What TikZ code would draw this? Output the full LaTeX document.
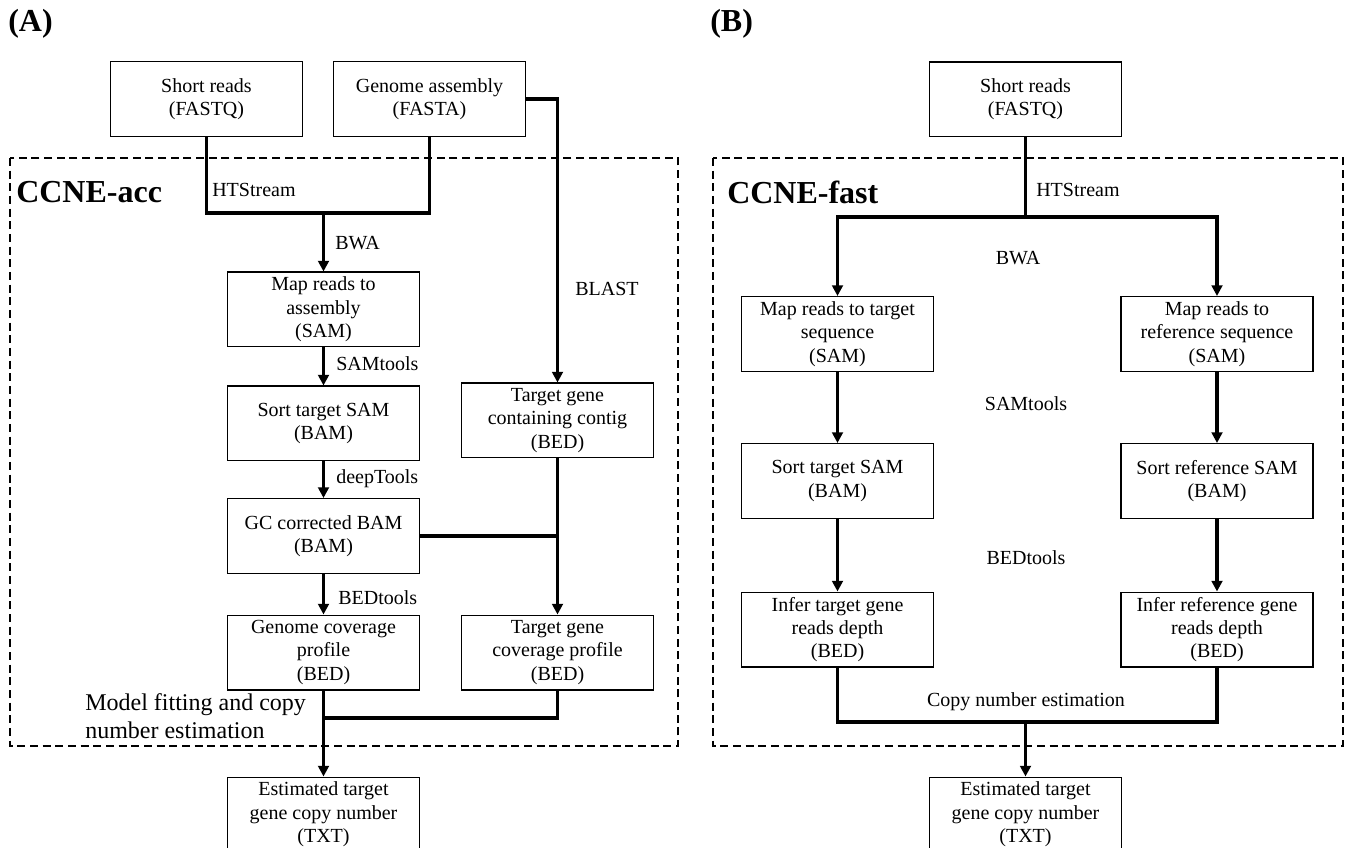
\documentclass[tikz,border=0pt]{standalone}
\usepackage{fontspec}
\setmainfont{Liberation Serif}
\usepackage{tikz}
\usetikzlibrary{arrows.meta}

\begin{document}
\begin{tikzpicture}[x=0.75pt,y=-0.75pt,
  box/.style={draw,line width=1pt,minimum width=144pt,minimum height=56pt,inner sep=0pt,align=center,font=\fontsize{15}{17.5}\selectfont},
  tool/.style={font=\fontsize{15}{17.5}\selectfont,inner sep=0pt},
  link/.style={line width=2.4pt},
  flow/.style={link,-{Triangle[width=8pt,length=8pt]}},
  frame/.style={line width=1pt,dash pattern=on 6pt off 3.5pt},
  panel/.style={font=\fontsize{24}{28}\selectfont\bfseries,inner sep=0pt}]
\path[use as bounding box] (0,0) rectangle (1350,848);
\draw[frame] (10,158) rectangle (678,746);
\draw[frame] (713,158) rectangle (1343,746);
\node[panel,anchor=west] (lblA) at (8,24) {(A)};
\node[panel,anchor=west] (lblB) at (710,24) {(B)};
\node[panel,anchor=west] (accA) at (16,192) {CCNE-acc};
\node[panel,anchor=west] (fastB) at (727,192) {CCNE-fast};
\node[box] (sra) at (206.5,99) {Short reads\\(FASTQ)};
\node[box] (gaA) at (429.5,99) {Genome assembly\\(FASTA)};
\node[box] (mapA) at (323.5,309.5) {Map reads to\\assembly\\(SAM)};
\node[box] (sortA) at (323.5,423.5) {Sort target SAM\\(BAM)};
\node[box] (contigA) at (557.5,420.5) {Target gene\\containing contig\\(BED)};
\node[box] (gcA) at (323.5,536) {GC corrected BAM\\(BAM)};
\node[box] (gcovA) at (323.5,652.5) {Genome coverage\\profile\\(BED)};
\node[box] (tcovA) at (557.5,652.5) {Target gene\\coverage profile\\(BED)};
\node[box] (estA) at (323.5,814.5) {Estimated target\\gene copy number\\(TXT)};
\node[box] (srb) at (1025.5,99.5) {Short reads\\(FASTQ)};
\node[box] (maptB) at (837.5,334) {Map reads to target\\sequence\\(SAM)};
\node[box] (maprB) at (1217,334) {Map reads to\\reference sequence\\(SAM)};
\node[box] (sorttB) at (837.5,481) {Sort target SAM\\(BAM)};
\node[box] (sortrB) at (1217,481) {Sort reference SAM\\(BAM)};
\node[box] (infertB) at (837.5,629.5) {Infer target gene\\reads depth\\(BED)};
\node[box] (inferrB) at (1217,629.5) {Infer reference gene\\reads depth\\(BED)};
\node[box] (estB) at (1025.5,814.5) {Estimated target\\gene copy number\\(TXT)};
\coordinate (jA) at (323.5,213);
\coordinate (mA) at (323.5,718);
\coordinate (jB) at (1025.5,217);
\coordinate (mB) at (1025.5,722);
\draw[link] (sra.south) |- (jA) -| (gaA.south);
\draw[flow] (jA) -- (mapA.north);
\draw[flow] (mapA) -- (sortA);
\draw[flow] (sortA) -- (gcA);
\draw[flow] (gcA) -- (gcovA);
\draw[flow] (gaA.east) -| (contigA.north);
\draw[flow] (contigA) -- (tcovA);
\draw[link] (gcA.east) -- (gcA.east -| contigA.south);
\draw[link] (gcovA.south) |- (mA) -| (tcovA.south);
\draw[flow] (mA) -- (estA.north);
\draw[link] (srb.south) -- (jB);
\draw[flow] (jB) -| (maptB.north);
\draw[flow] (jB) -| (maprB.north);
\draw[flow] (maptB) -- (sorttB);
\draw[flow] (sorttB) -- (infertB);
\draw[flow] (maprB) -- (sortrB);
\draw[flow] (sortrB) -- (inferrB);
\draw[link] (infertB.south) |- (mB) -| (inferrB.south);
\draw[flow] (mB) -- (estB.north);
\node[tool,anchor=west] (htA) at (212,190) {HTStream};
\node[tool,anchor=west] (bwaA) at (335,243) {BWA};
\node[tool,anchor=west] (samA) at (336,364) {SAMtools};
\node[tool,anchor=west] (deepA) at (336,479) {deepTools};
\node[tool,anchor=west] (bedA) at (338,598) {BEDtools};
\node[tool,anchor=west] (blastA) at (575,289) {BLAST};
\node[tool,anchor=west,align=left,font=\fontsize{18}{21}\selectfont] (fitA) at (85,716) {Model fitting and copy\\number estimation};
\node[tool,anchor=west] (htB) at (1036,190) {HTStream};
\node[tool] (bwaB) at (1018,258) {BWA};
\node[tool] (samB) at (1026,404) {SAMtools};
\node[tool] (bedB) at (1026,558) {BEDtools};
\node[tool] (cnB) at (1026,702) {Copy number estimation};
\end{tikzpicture}
\end{document}
